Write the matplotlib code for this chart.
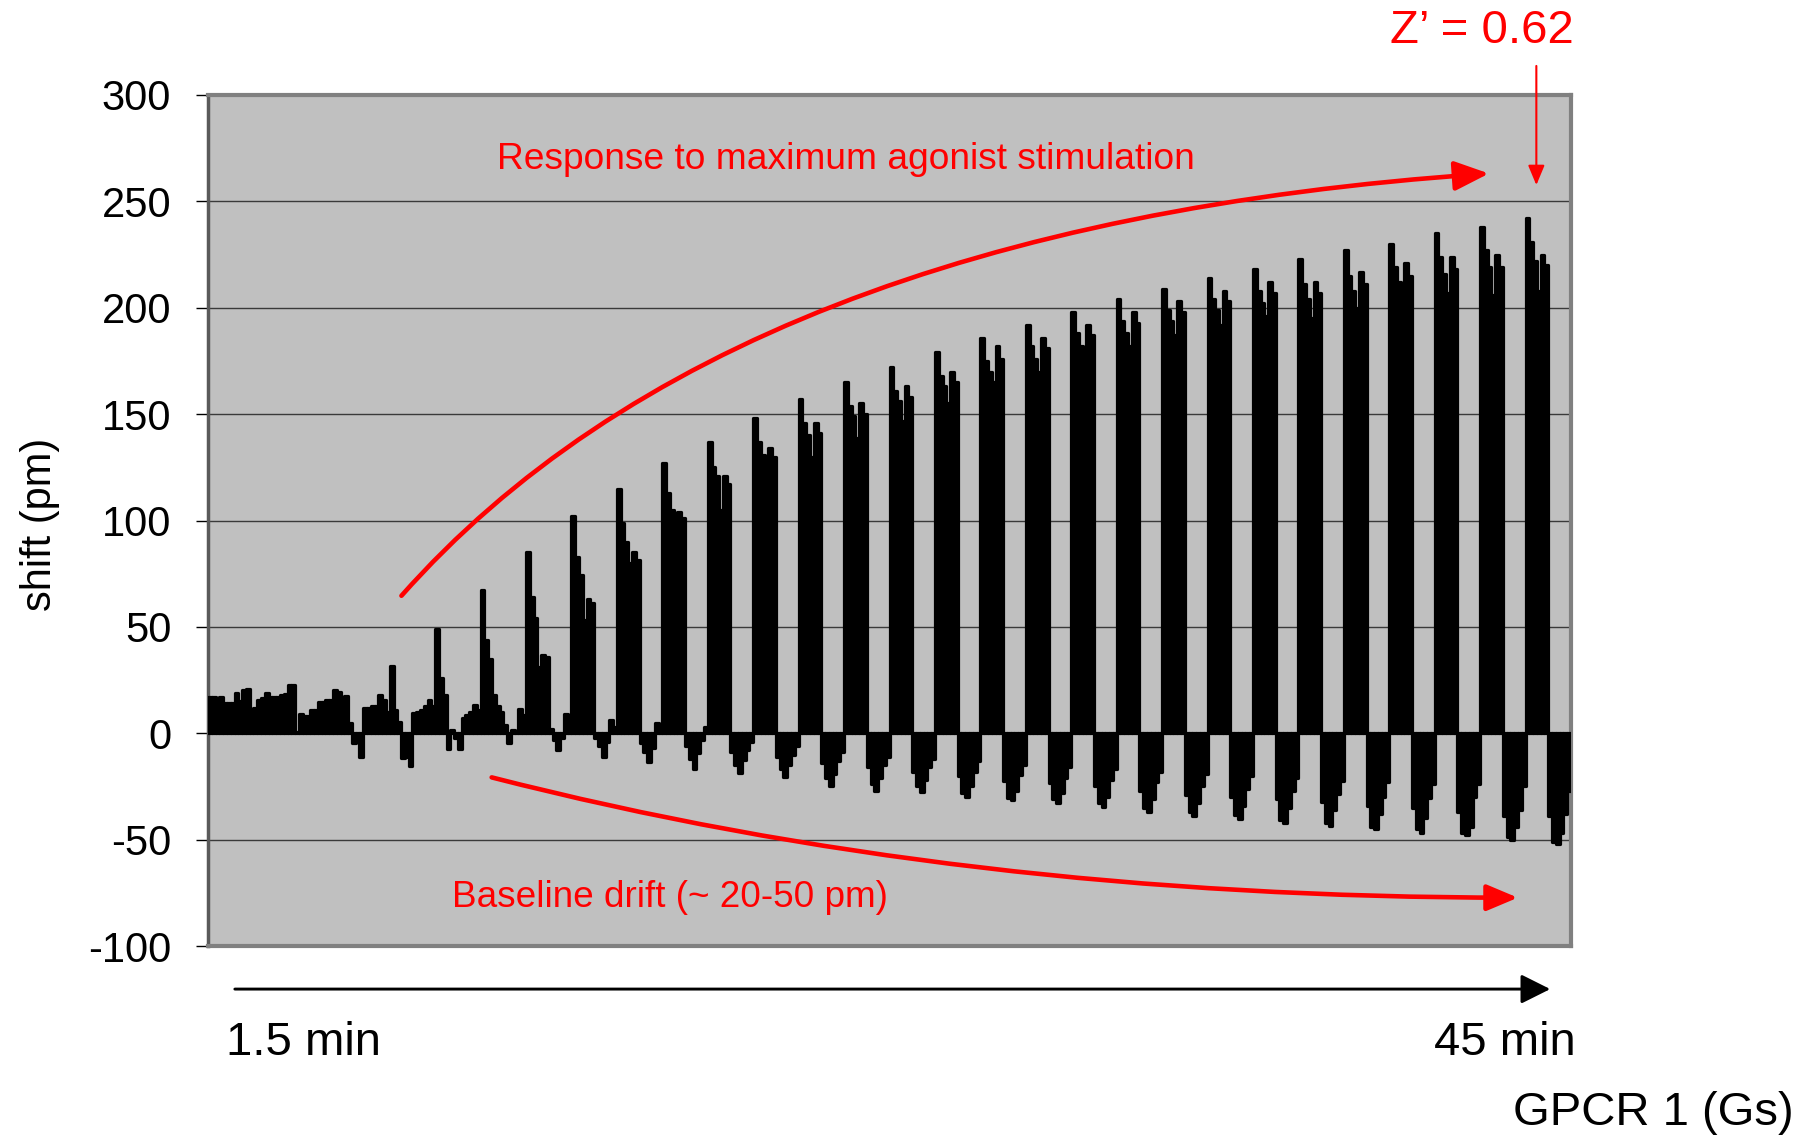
import matplotlib
matplotlib.use("Agg")
import matplotlib.pyplot as plt
from matplotlib.patches import FancyArrowPatch
from matplotlib.path import Path
import numpy as np

plt.rcParams['font.family'] = ['Liberation Sans', 'DejaVu Sans']
plt.rcParams['axes.unicode_minus'] = False

# Wavelength shift (pm) per well, one row per read cycle:
# six agonist-stimulated wells followed by six control wells.
agonist_wells = [
    [17, 17, 16.5, 17, 14.2, 14.2],
    [12, 15.5, 16.5, 18.7, 17, 16.9],
    [9, 8.3, 8.3, 10.9, 10.9, 14.5],
    [17.5, 4.7, -4.7, -2.3, -11, 11.7],
    [31.8, 11, 5.4, -11.6, -11, -15.5],
    [49, 26, 18, -7.5, 1.5, -2],
    [67.5, 44, 35, 18, 13, 10],
    [85, 64, 54, 31, 37, 36],
    [102, 83, 74.5, 53, 63, 61],
    [115, 99, 90, 80, 85, 81.5],
    [127, 113, 105, 90, 104, 101],
    [137, 125, 121, 105, 121, 117],
    [148, 137, 131, 120, 134, 130],
    [157, 146, 140, 130, 146, 141],
    [165, 154, 149, 139, 155, 150],
    [172, 161, 156, 147, 163, 158],
    [179, 168, 163, 155, 170, 165],
    [186, 175, 170, 165, 182, 176],
    [192, 182, 176, 170, 186, 181],
    [198, 188, 182, 176, 192, 187],
    [204, 194, 188, 182, 198, 193],
    [209, 199, 194, 187, 203, 198],
    [214, 204, 199, 192, 208, 203],
    [218, 208, 202, 196, 212, 207],
    [223, 211, 204, 195, 212, 207],
    [227, 215, 208, 200, 217, 211],
    [230, 219, 212, 204, 221, 215],
    [235, 224, 216, 207, 224, 218],
    [238, 227, 219, 206, 225, 219],
    [242, 231, 222, 208, 225, 220],
]

control_wells = [
    [14.2, 18.9, 15, 20.5, 20.8, 0.5],
    [16.9, 18, 18.3, 22.7, 22.7, 0.5],
    [14.5, 15.6, 15.6, 20.3, 19.5, 0.5],
    [11.7, 12.8, 12.8, 18, 15.6, 10],
    [9.3, 10, 11, 13, 15.5, 13],
    [-7.5, 7, 8.5, 10, 13.5, 11],
    [4, -4.7, 1.5, 1, 11.6, 8.5],
    [2, -3, -7.8, -2, 9, 6],
    [-2, -6, -11.3, -4, 6.2, 3],
    [-4.7, -9, -13.7, -7, 4.7, 1.5],
    [-6, -12, -16.6, -9.4, -3, 3],
    [-8.6, -15, -18.6, -12.5, -8, -4],
    [-11, -17, -20.7, -15, -10, -6],
    [-14, -21, -25, -19, -13, -9],
    [-16, -24, -27.2, -21, -15, -11],
    [-18, -25, -27.7, -22, -16, -12],
    [-20, -28, -29.9, -25, -18, -13],
    [-22.6, -30.5, -31.5, -27.3, -19.5, -14.8],
    [-23.5, -31, -32.6, -28, -21, -16],
    [-25, -33, -34.8, -30, -22, -17],
    [-27, -35, -37, -31, -23, -18],
    [-29, -37, -39.1, -33, -25, -19],
    [-30, -38.5, -40.2, -34, -26, -20],
    [-31, -41, -42.4, -35, -27, -21],
    [-32.5, -42, -43.5, -36, -28.5, -22.4],
    [-34, -44, -45.1, -38, -30, -23],
    [-35, -45, -46.7, -40, -30.5, -24],
    [-37, -47, -47.8, -44, -30, -24],
    [-39, -49, -50, -44, -36, -25],
    [-39, -51, -52.2, -47, -38, -27],
]

y_ticks = [-100, -50, 0, 50, 100, 150, 200, 250, 300]
y_label = "shift (pm)"
start_label = "1.5 min"
end_label = "45 min"
assay_label = "GPCR 1 (Gs)"
z_prime_label = "Z’ = 0.62"
response_label = "Response to maximum agonist stimulation"
drift_label = "Baseline drift (~ 20-50 pm)"

shifts = []
for agonist, control in zip(agonist_wells, control_wells):
    shifts.extend(agonist)
    shifts.extend(control)
x = np.arange(len(shifts))

W, H = 1814, 1139
fig = plt.figure(figsize=(W / 100, H / 100), dpi=100)
ax = fig.add_axes([208 / W, 1 - 946 / H, (1571 - 208) / W, (946 - 95) / H])
ax.set_facecolor('#c0c0c0')

ax.bar(x, shifts, width=1.0, color='black', edgecolor='black',
       linewidth=2.3, joinstyle='round', zorder=3)

ax.set_xlim(-0.5, len(shifts) - 0.5)
ax.set_ylim(-100, 300)
ax.set_yticks(y_ticks)
ax.set_xticks([])
ax.yaxis.grid(True, color='#3a3a3a', linewidth=1.0)
ax.set_axisbelow(True)
ax.tick_params(axis='y', labelsize=30, length=8.5, width=1.0, pad=18,
               direction='out', color='black')
for side in ['top', 'right', 'bottom']:
    ax.spines[side].set_color('#808080')
    ax.spines[side].set_linewidth(3)
ax.spines['left'].set_color('#5a5a5a')
ax.spines['left'].set_linewidth(2.5)


def fpos(px, py):
    """Convert layout coordinates (1568 x 984.6 grid) to figure fractions."""
    return (px / 1568.0, 1 - py / 984.6)


fig.text(*fpos(35, 453), y_label, rotation=90, ha='center', va='center',
         fontsize=30)

fig.text(*fpos(195, 902), start_label, ha='left', va='center', fontsize=34)
fig.text(*fpos(1362, 902), end_label, ha='right', va='center', fontsize=34)
fig.text(*fpos(1550, 962), assay_label, ha='right', va='center', fontsize=34)

red = '#ff0000'
fig.text(*fpos(1281, 27), z_prime_label, ha='center', va='center',
         fontsize=34, color=red)
fig.text(*fpos(731, 138), response_label, ha='center', va='center',
         fontsize=26.7, color=red)
fig.text(*fpos(579, 776), drift_label, ha='center', va='center',
         fontsize=26.6, color=red)

# time axis arrow
time_arrow = FancyArrowPatch(fpos(203, 855), fpos(1340, 855),
                             transform=fig.transFigure,
                             arrowstyle='-|>,head_length=1.8,head_width=0.9',
                             mutation_scale=10, color='black', lw=2.1,
                             shrinkA=0, shrinkB=0)
fig.add_artist(time_arrow)

# arrow from the Z' annotation down to the final response
z_arrow = FancyArrowPatch(fpos(1328, 57), fpos(1328, 160),
                          transform=fig.transFigure,
                          arrowstyle='-|>,head_length=1.2,head_width=0.5',
                          mutation_scale=10, color=red, lw=1.5,
                          shrinkA=0, shrinkB=0)
fig.add_artist(z_arrow)

# curved trend arrows
resp_path = Path([fpos(347, 515), fpos(630, 195), fpos(1287, 150)],
                 [Path.MOVETO, Path.CURVE3, Path.CURVE3])
resp_arrow = FancyArrowPatch(path=resp_path, transform=fig.transFigure,
                             arrowstyle='-|>,head_length=2.1,head_width=0.9',
                             mutation_scale=10, color=red, lw=3.3)
fig.add_artist(resp_arrow)

drift_path = Path([fpos(425, 672), fpos(831, 776), fpos(1312, 776)],
                  [Path.MOVETO, Path.CURVE3, Path.CURVE3])
drift_arrow = FancyArrowPatch(path=drift_path, transform=fig.transFigure,
                              arrowstyle='-|>,head_length=1.9,head_width=0.8',
                              mutation_scale=10, color=red, lw=3.3)
fig.add_artist(drift_arrow)

fig.savefig('out.png', dpi=100, facecolor='white')
